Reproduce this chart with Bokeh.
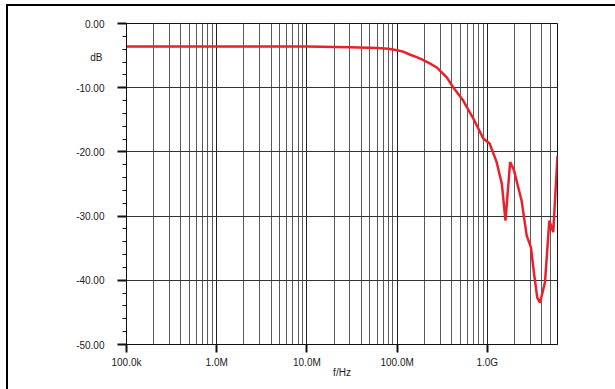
from bokeh.plotting import figure
from bokeh.models import FixedTicker, LinearAxis, Range1d, PrintfTickFormatter
from bokeh.embed import file_html
from bokeh.resources import INLINE

# ---- data ----
freq_hz = [1e5, 1e6, 1e7, 3e7, 6e7, 8e7, 1e8, 1.2e8, 1.4e8, 1.65e8, 1.96e8,
           2.3e8, 2.75e8, 3.55e8, 4.2e8, 5.4e8, 7e8, 9e8, 1.06e9, 1.27e9,
           1.45e9, 1.59e9, 1.79e9, 1.97e9, 2.4e9, 2.73e9, 3.05e9, 3.3e9,
           3.58e9, 3.84e9, 4.36e9, 4.87e9, 5.38e9, 6.0e9]
gain_db = [-3.6, -3.6, -3.6, -3.68, -3.8, -3.95, -4.15, -4.45, -4.87, -5.25, -5.7,
           -6.2, -6.85, -8.4, -9.96, -12.0, -14.8, -17.9, -18.7, -21.6,
           -25.0, -30.7, -21.6, -22.8, -27.6, -33.0, -34.9, -39.0,
           -42.7, -43.5, -40.3, -30.7, -32.5, -20.6]

x_tick_values = [1e5, 1e6, 1e7, 1e8, 1e9]
x_tick_labels = ["100.0k", "1.0M", "10.0M", "100.0M", "1.0G"]
y_tick_values = [-50, -40, -30, -20, -10, 0]
x_title = "f/Hz"
y_title = "dB"
y_title_pos = -5.3

X_START, X_END = 1e5, 6e9
Y_START, Y_END = -50, 0

x_minor = [k * 10 ** n for n in range(5, 10) for k in range(2, 10) if k * 10 ** n < X_END]
y_minor = list(range(-48, 0, 2))

FONT = "Liberation Sans"

p = figure(x_axis_type="log", output_backend="svg", toolbar_location=None,
           frame_width=431, frame_height=321,
           min_border_left=118, min_border_right=58,
           min_border_top=17, min_border_bottom=45,
           x_range=Range1d(X_START, X_END), y_range=Range1d(Y_START, Y_END))
p.styles = {"margin-left": "6px", "margin-top": "4px",
            "border-left": "2px solid #000", "border-top": "2px solid #000"}

p.outline_line_color = "#111111"
p.outline_line_width = 1
p.background_fill_color = "white"
p.border_fill_color = "white"

# x axis
xa = p.xaxis[0]
xa.ticker = FixedTicker(ticks=x_tick_values, minor_ticks=x_minor)
xa.major_label_overrides = {v: s for v, s in zip(x_tick_values, x_tick_labels)}
xa.major_tick_out = 8
xa.major_tick_in = 0
xa.major_tick_line_width = 2
xa.major_tick_line_color = "#111111"
xa.minor_tick_line_color = None
xa.axis_line_color = "#111111"
xa.major_label_standoff = 4
xa.major_label_text_font = FONT
xa.major_label_text_font_size = "10px"
xa.major_label_text_color = "#222222"
xa.axis_label = x_title
xa.axis_label_standoff = -4
xa.axis_label_text_font = FONT
xa.axis_label_text_font_size = "10px"
xa.axis_label_text_font_style = "normal"
xa.axis_label_text_color = "#222222"

# y axis
ya = p.yaxis[0]
ya.ticker = FixedTicker(ticks=y_tick_values, minor_ticks=y_minor)
ya.formatter = PrintfTickFormatter(format="%.2f")
ya.major_tick_out = 9
ya.major_tick_in = 0
ya.major_tick_line_width = 2
ya.major_tick_line_color = "#111111"
ya.minor_tick_out = 4
ya.minor_tick_in = 0
ya.minor_tick_line_color = "#111111"
ya.axis_line_color = "#111111"
ya.major_label_standoff = 13
ya.major_label_text_font = FONT
ya.major_label_text_font_size = "10px"
ya.major_label_text_color = "#222222"

# unit label "dB" drawn as a tick label of a bare second left axis
ua = LinearAxis(ticker=FixedTicker(ticks=[y_title_pos], minor_ticks=[]),
                major_label_overrides={y_title_pos: y_title},
                axis_line_color=None, major_tick_line_color=None,
                minor_tick_line_color=None, major_tick_out=0, major_tick_in=0,
                minor_tick_out=0, minor_tick_in=0,
                major_label_standoff=-29,
                major_label_text_font=FONT, major_label_text_font_size="10px",
                major_label_text_color="#222222")
p.add_layout(ua, "left")

# grids
p.xgrid.grid_line_color = "#222222"
p.xgrid.grid_line_width = 1
p.xgrid.minor_grid_line_color = "#5a5a5a"
p.xgrid.minor_grid_line_width = 1
p.ygrid.grid_line_color = "#333333"
p.ygrid.grid_line_width = 1
p.ygrid.minor_grid_line_color = None

p.line(freq_hz, gain_db, line_color="#e8212b", line_width=2.5)

open("out.html", "w").write(file_html(p, INLINE))
